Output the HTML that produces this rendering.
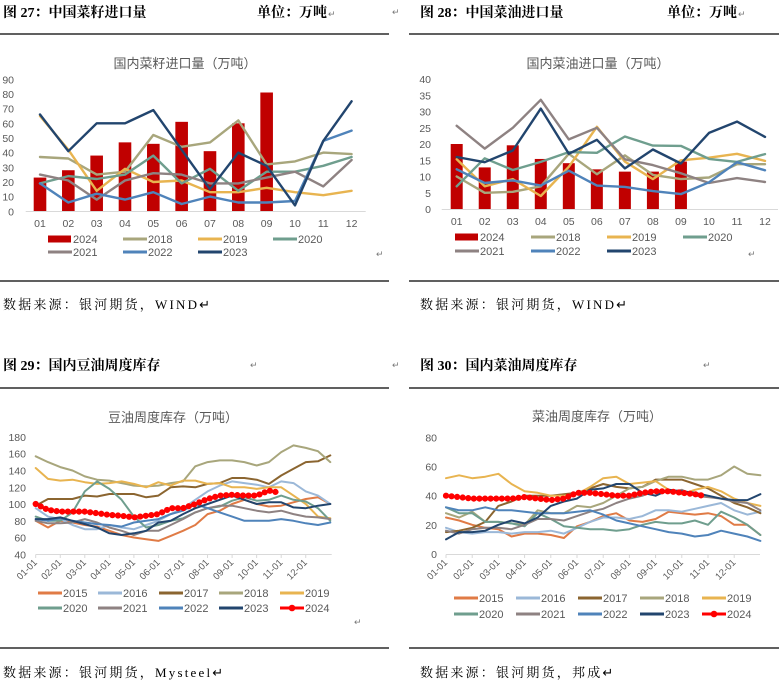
<!DOCTYPE html>
<html><head><meta charset="utf-8"><style>
html,body{margin:0;padding:0;background:#fff;}
svg{display:block;}
</style></head><body>
<svg id="s" width="779" height="690" xmlns="http://www.w3.org/2000/svg" font-family="'Liberation Sans','Noto Sans CJK SC',sans-serif"></svg>
<script>
var s=document.getElementById('s'),h='';
function T(x,y,t,o){o=o||{};h+='<text x="'+x+'" y="'+y+'" font-size="'+(o.fs||11)+'" fill="'+(o.c||'#595959')+'" text-anchor="'+(o.a||'start')+'"'+(o.fw?' font-weight="'+o.fw+'"':'')+(o.ls?' letter-spacing="'+o.ls+'"':'')+(o.ff?' font-family="'+o.ff+'"':'')+(o.tr?' transform="'+o.tr+'"':'')+'>'+t+'</text>';}
function L(x1,y1,x2,y2,c,w){h+='<line x1="'+x1+'" y1="'+y1+'" x2="'+x2+'" y2="'+y2+'" stroke="'+c+'" stroke-width="'+(w||1)+'"/>';}
function P(pts,c,w,extra){h+='<polyline fill="none" stroke="'+c+'" stroke-width="'+w+'" stroke-linejoin="round" stroke-linecap="round" points="'+pts.map(function(p){return p[0].toFixed(1)+','+p[1].toFixed(1)}).join(' ')+'"'+(extra||'')+'/>';}
var C={b24:'#C00000',y15:'#E07B46',y16:'#9BB8D8',y17:'#8B6530',y18:'#A8A67C',y19:'#E8B450',y20:'#6F9E8E',y21:'#8E8282',y22:'#4F83BA',y23:'#22456E',y24:'#FF0000'};
var SER="'Liberation Serif','Noto Serif CJK SC',serif";
function header(x,y,t){T(x,y,t,{fs:14,c:'#000',fw:'bold',ff:SER});}
header(3,17,'图 27：中国菜籽进口量');header(257,17,'单位：万吨');T(328,17,'↵',{fs:9,c:'#777'});
T(392,15,'↵',{fs:9,c:'#777'});header(420,17,'图 28：中国菜油进口量');header(667,17,'单位：万吨');T(738,17,'↵',{fs:9,c:'#777'});
header(3,370,'图 29：国内豆油周度库存');T(250,368,'↵',{fs:9,c:'#777'});
T(392,368,'↵',{fs:9,c:'#777'});header(420,370,'图 30：国内菜油周度库存');T(703,368,'↵',{fs:9,c:'#777'});
L(0,34,389,34,'#000',1.3);L(409,34,779,34,'#000',1.3);L(0,281,389,281,'#000',1.3);L(409,281,779,281,'#000',1.3);
L(0,388,389,388,'#000',1.3);L(409,388,779,388,'#000',1.3);L(0,648,389,648,'#000',1.3);L(409,648,779,648,'#000',1.3);
function src(x,y,t){T(x,y,t,{fs:13,c:'#000',ff:SER,ls:'2.2'});}
src(3,309,'数据来源：银河期货，WIND↵');src(420,309,'数据来源：银河期货，WIND↵');
src(3,677,'数据来源：银河期货，Mysteel↵');src(420,677,'数据来源：银河期货，邦成↵');
T(376,257,'↵',{fs:9,c:'#777'});T(748,257,'↵',{fs:9,c:'#777'});T(354,625,'↵',{fs:9,c:'#777'});
function leg(x,y,c,t,kind,w){if(kind=='bar'){h+='<rect x="'+x+'" y="'+(y-3.5)+'" width="23" height="7" fill="'+c+'"/>';}else{L(x,y,x+24,y,c,w||3);if(kind=='dot')h+='<circle cx="'+(x+12)+'" cy="'+y+'" r="3.3" fill="'+c+'"/>';}T(x+25,y+4,t,{fs:11});}
(function(){
var X=function(i){return 40+i*28.33},Y=function(v){return 211.3-v*1.4667};
T(185,68,'国内菜籽进口量（万吨）',{fs:13,a:'middle'});
for(var v=0;v<=90;v+=10)T(14,Y(v)+4,v,{fs:10.5,a:'end'});
var b=[23,28,38,47,46,61,41,60,81];
b.forEach(function(v,i){h+='<rect x="'+(X(i)-6.3)+'" y="'+Y(v)+'" width="12.6" height="'+(v*1.4667)+'" fill="'+C.b24+'"/>';});
L(25.7,211.5,365.7,211.5,'#d9d9d9',1);
for(var i=0;i<12;i++)T(X(i),227,('0'+(i+1)).slice(-2),{fs:10.5,a:'middle'});
var d={y18:[37,36,25,27,52,44,47,62,32,34,40,39],y19:[65,42,14,29,20,21,13,13,16,13,11,14],y20:[19,24,22,25,38,19,29,14,27,27,31,37],y21:[25,21,8,21,26,25,19,19,23,27,17,35],y22:[19,6,12,8,13,5,10,6,6,7,48,55],y23:[66,41,60,60,69,42,15,40,31,4,48,75]};
for(var k in d)P(d[k].map(function(v,i){return[X(i),Y(v)]}),C[k],2.4);
leg(48,239,C.b24,'2024','bar');leg(123,239,C.y18,'2018');leg(198,239,C.y19,'2019');leg(273,239,C.y20,'2020');
leg(48,252,C.y21,'2021');leg(123,252,C.y22,'2022');leg(198,252,C.y23,'2023');
})();
(function(){
var X=function(i){return 456.7+i*28.03},Y=function(v){return 209-v*3.25};
T(598,68,'国内菜油进口量（万吨）',{fs:13,a:'middle'});
for(var v=0;v<=40;v+=5)T(431,Y(v)+4,v,{fs:10.5,a:'end'});
var b=[20,12.8,19.6,15.4,14.1,12.2,11.5,11.5,14.6];
b.forEach(function(v,i){h+='<rect x="'+(X(i)-6)+'" y="'+Y(v)+'" width="12" height="'+(v*3.25)+'" fill="'+C.b24+'"/>';});
L(441.7,209.5,778,209.5,'#d9d9d9',1);
for(var i=0;i<12;i++)T(X(i),225,('0'+(i+1)).slice(-2),{fs:10.5,a:'middle'});
var d={y18:[10,5,5.3,7,17,10.7,16.5,10.5,9.2,9.7,13.8,13.8],y19:[15.3,7,9.2,4,13,25.3,14.6,9.2,15,15.8,17,14.8],y20:[7,15.6,12,14.5,17.5,17.3,22.3,19.5,19.4,15.4,14.5,16.9],y21:[25.6,18.6,25,33.6,21.4,25,15.3,13.5,11,8,9.5,8.3],y22:[12.2,8,8.8,7.2,11.8,7.2,6.8,5.5,4.6,8.2,14.4,11.9],y23:[16,14.4,18,30.9,17,21.3,12.5,18.3,14,23.4,26.9,22.2]};
for(var k in d)P(d[k].map(function(v,i){return[X(i),Y(v)]}),C[k],2.4);
leg(455,237,C.b24,'2024','bar');leg(531,237,C.y18,'2018');leg(607,237,C.y19,'2019');leg(683,237,C.y20,'2020');
leg(455,251,C.y21,'2021');leg(531,251,C.y22,'2022');leg(607,251,C.y23,'2023');
})();
function weekly(X,Y,d,last,endT){
for(var k in d){var pts=d[k].map(function(v,i){return[X(i/2),Y(v)]});if(k=='y24'){pts[pts.length-1][0]=X(endT);P(pts,C.y24,2.2);P(pts,C.y24,6.2,' stroke-dasharray="0 5.6"');}else P(pts,C[k],2);}
}
(function(){
var X=function(t){return 35.7+t*24.55},Y=function(v){return 554.3-(v-40)*0.838};
T(173,422,'豆油周度库存（万吨）',{fs:13,a:'middle'});
for(var v=40;v<=180;v+=20)T(26,Y(v)+4,v,{fs:10.5,a:'end'});
L(35.7,554.5,331.7,554.5,'#d9d9d9',1);
for(var i=0;i<12;i++){L(X(i),554.5,X(i),558,'#d9d9d9',1);var x=X(i)+2,y=563;T(x,y,('0'+(i+1)).slice(-2)+'-01',{fs:9.5,a:'end',tr:'rotate(-45 '+x+' '+y+')'});}
var d={
y15:[80,72,80,78,75,73,68,63,60,58,56,62,68,75,88,92,100,105,100,97,98,102,106,108,100],
y16:[95,85,82,75,70,70,75,72,70,75,80,88,95,105,115,122,127,125,123,120,127,125,115,110,100],
y17:[98,106,106,106,110,109,112,112,112,108,110,120,121,120,124,125,131,131,129,124,134,142,150,151,158],
y18:[157,150,144,140,133,129,128,125,122,121,122,125,127,145,150,152,152,150,146,150,162,170,167,163,150],
y19:[143,130,128,129,126,124,125,127,124,120,126,122,128,128,124,125,120,120,118,120,120,110,100,85,83],
y20:[85,80,80,90,115,127,118,105,85,72,75,80,83,90,95,97,104,108,104,105,110,105,103,95,80],
y21:[80,77,77,78,82,78,72,68,63,68,68,75,82,90,95,98,98,95,92,90,92,88,85,84,82],
y22:[82,80,83,80,78,76,75,73,78,80,82,88,92,100,95,90,85,80,80,80,82,80,77,75,78],
y23:[82,82,84,80,76,72,65,63,65,68,78,80,88,95,100,105,110,105,100,102,102,96,95,98,100],
y24:[100,93,91,91,91,89,87,86,84,86,88,95,95,100,106,110,111,110,110,116,114]};
weekly(X,Y,d,true,9.85);
var ly=593,ly2=608;
leg(38,ly,C.y15,'2015');leg(98,ly,C.y16,'2016');leg(159,ly,C.y17,'2017');leg(219,ly,C.y18,'2018');leg(280,ly,C.y19,'2019');
leg(38,ly2,C.y20,'2020');leg(98,ly2,C.y21,'2021');leg(159,ly2,C.y22,'2022');leg(219,ly2,C.y23,'2023');leg(280,ly2,C.y24,'2024','dot');
})();
(function(){
var X=function(t){return 446+t*26.2},Y=function(v){return 554-v*1.458};
T(597,421,'菜油周度库存（万吨）',{fs:13,a:'middle'});
for(var v=0;v<=80;v+=20)T(437,Y(v)+4,v,{fs:10.5,a:'end'});
L(446,554.5,760,554.5,'#d9d9d9',1);
for(var i=0;i<12;i++){L(X(i),554.5,X(i),558,'#d9d9d9',1);var x=X(i)+2,y=563;T(x,y,('0'+(i+1)).slice(-2)+'-01',{fs:9.5,a:'end',tr:'rotate(-45 '+x+' '+y+')'});}
var d={
y15:[25,23,20,18,17,12,14,14,13,11,19,22,26,28,23,22,24,29,28,27,28,26,20,20,13],
y16:[18,15,14,15,15,14,15,15,16,14,18,22,25,25,24,26,30,30,29,31,33,35,30,27,29],
y17:[15,16,18,22,33,36,40,40,40,41,42,45,48,46,45,46,51,51,51,48,45,40,35,32,28],
y18:[28,25,29,22,22,21,20,30,28,28,33,32,35,40,45,46,50,53,53,51,51,54,60,55,54],
y19:[52,54,52,53,55,48,43,42,40,40,41,46,52,53,48,49,50,44,41,44,46,43,38,35,33],
y20:[32,28,28,22,22,21,19,28,24,19,18,17,17,16,17,20,22,21,21,23,20,29,25,20,13],
y21:[16,14,17,18,18,17,20,24,24,23,26,29,31,35,38,40,44,42,44,40,39,38,36,35,30],
y22:[32,30,30,32,30,30,29,28,28,28,29,30,27,23,21,19,17,15,14,12,13,16,14,12,9],
y23:[10,15,15,16,20,23,21,25,33,36,38,44,45,48,48,42,40,44,43,42,40,38,37,37,41],
y24:[40,39,38,38,38,38,39,38,37,38,42,42,41,40,40,42,43,43,42,41,40]};
weekly(X,Y,d,true,9.8);
var ly=598,ly2=614;
leg(454,ly,C.y15,'2015');leg(516,ly,C.y16,'2016');leg(578,ly,C.y17,'2017');leg(640,ly,C.y18,'2018');leg(702,ly,C.y19,'2019');
leg(454,ly2,C.y20,'2020');leg(516,ly2,C.y21,'2021');leg(578,ly2,C.y22,'2022');leg(640,ly2,C.y23,'2023');leg(702,ly2,C.y24,'2024','dot');
})();
s.innerHTML=h;
</script>
</body></html>
